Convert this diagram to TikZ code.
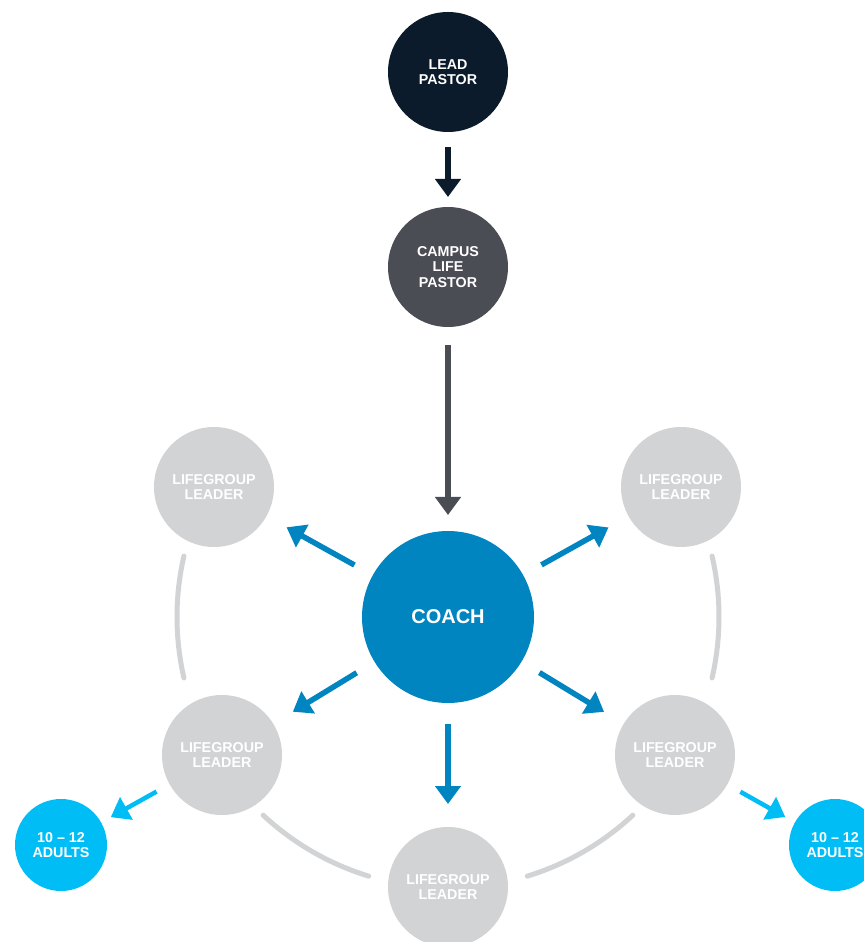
\documentclass[tikz,border=0pt]{standalone}
\usepackage{fontspec}
\setmainfont{Liberation Sans}
\usetikzlibrary{arrows.meta}
\definecolor{leadnavy}{HTML}{0B1B2B}
\definecolor{campusgray}{HTML}{4B4D54}
\definecolor{coachblue}{HTML}{0085C1}
\definecolor{groupgray}{HTML}{D1D3D4}
\definecolor{adultcyan}{HTML}{00BEF5}
\begin{document}
\begin{tikzpicture}[x=1pt,y=1pt,
    disc/.style={circle,inner sep=0pt,outer sep=0pt,text=white,align=center,
      font=\fontsize{14.3}{15.5}\selectfont\bfseries},
    arr/.style={line width=5.5pt,-{Triangle[width=25pt,length=18pt]}},
    ring/.style={groupgray,line width=5pt,line cap=round}]
  \useasboundingbox (-448,-325) rectangle (416,617);
  \node[disc,fill=coachblue,minimum size=172pt,font=\fontsize{20}{21}\selectfont\bfseries] (coach) at (0,0) {COACH};
  \node[disc,fill=leadnavy,minimum size=120pt] (lead) at (0,545) {LEAD\\PASTOR};
  \node[disc,fill=campusgray,minimum size=120pt] (campus) at (0,350) {CAMPUS\\LIFE\\PASTOR};
  \draw[arr,leadnavy,shorten <=15pt,shorten >=10pt] (lead) -- (campus);
  \draw[arr,campusgray,shorten <=18pt,shorten >=16pt] (campus) -- (coach);
  \foreach \pos [count=\xi] in {(233,130),(-234,130),(-226,-138),(0,-270),(227,-138)}
  {
    \node[disc,fill=groupgray,minimum size=120pt] (group\xi) at \pos {LIFEGROUP\\LEADER};
    \draw[arr,coachblue,shorten <=21pt,shorten >=23pt] (coach) -- (group\xi);
  }
  \foreach \angle in {150,210,270,330}
    \draw[ring] (\angle+17:271) arc[start angle=\angle+17,end angle=\angle+43,radius=271];
  \node[disc,fill=adultcyan,minimum size=92pt] (adultsL) at (-387,-228) {10 – 12\\ADULTS};
  \node[disc,fill=adultcyan,minimum size=92pt] (adultsR) at (387,-228) {10 – 12\\ADULTS};
  \draw[arr,adultcyan,line width=4.5pt,shorten <=15pt,shorten >=11pt] (group3) -- (adultsL);
  \draw[arr,adultcyan,line width=4.5pt,shorten <=15pt,shorten >=11pt] (group5) -- (adultsR);
\end{tikzpicture}
\end{document}
